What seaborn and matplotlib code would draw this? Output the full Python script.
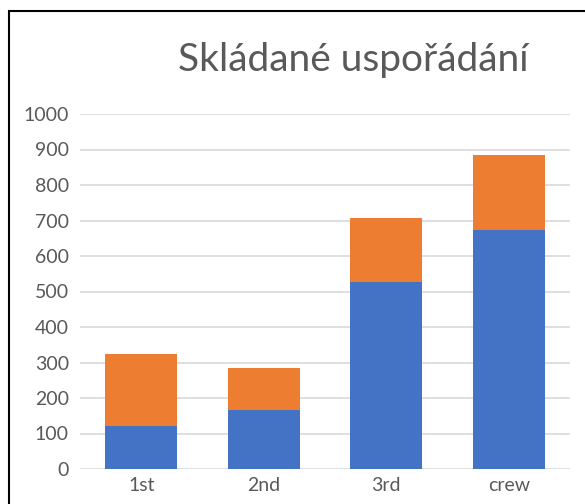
import matplotlib
matplotlib.use("Agg")
import matplotlib.pyplot as plt
import seaborn as sns
import pandas as pd

# Titanic: died (blue, bottom) and survived (orange, top)
classes = ["1st", "2nd", "3rd", "crew"]
died = [122, 167, 528, 673]
survived = [203, 118, 178, 212]

df = pd.DataFrame({"class": classes, "died": died, "survived": survived})
df["total"] = df["died"] + df["survived"]

sns.set_theme(style="white")
plt.rcParams["font.family"] = ["Lato", "DejaVu Sans"]

fig = plt.figure(figsize=(5.85, 5.04), dpi=100)
ax = fig.add_axes([80 / 585, 1 - 469 / 504, 490 / 585, 355 / 504])

sns.barplot(data=df, x="class", y="total", color="#ED7D31", width=0.59,
            saturation=1, linewidth=0, ax=ax, zorder=3)
sns.barplot(data=df, x="class", y="died", color="#4472C4", width=0.59,
            saturation=1, linewidth=0, ax=ax, zorder=4)

ax.set_ylim(0, 1000)
ax.set_xlim(-0.5, 3.5)
ax.set_yticks(range(0, 1001, 100))
ax.yaxis.grid(True, color="#D9D9D9", linewidth=1.2, zorder=0)
ax.set_xlabel("")
ax.set_ylabel("")
for s in ax.spines.values():
    s.set_visible(False)
ax.tick_params(axis="both", colors="#595959", labelsize=14, length=0, pad=8)
ax.tick_params(axis="x", pad=6)

fig.text(353 / 585, 1 - 60 / 504, "Skládané uspořádání", ha="center", va="center",
         fontsize=28, color="#595959")

# chart frame
fig.patches.append(plt.Rectangle((9 / 585, -0.1), 1.2, 1 - 11 / 504 + 0.1,
                                 transform=fig.transFigure, fill=False,
                                 edgecolor="black", linewidth=1.5))

fig.savefig("out.png", dpi=100, facecolor="white")
